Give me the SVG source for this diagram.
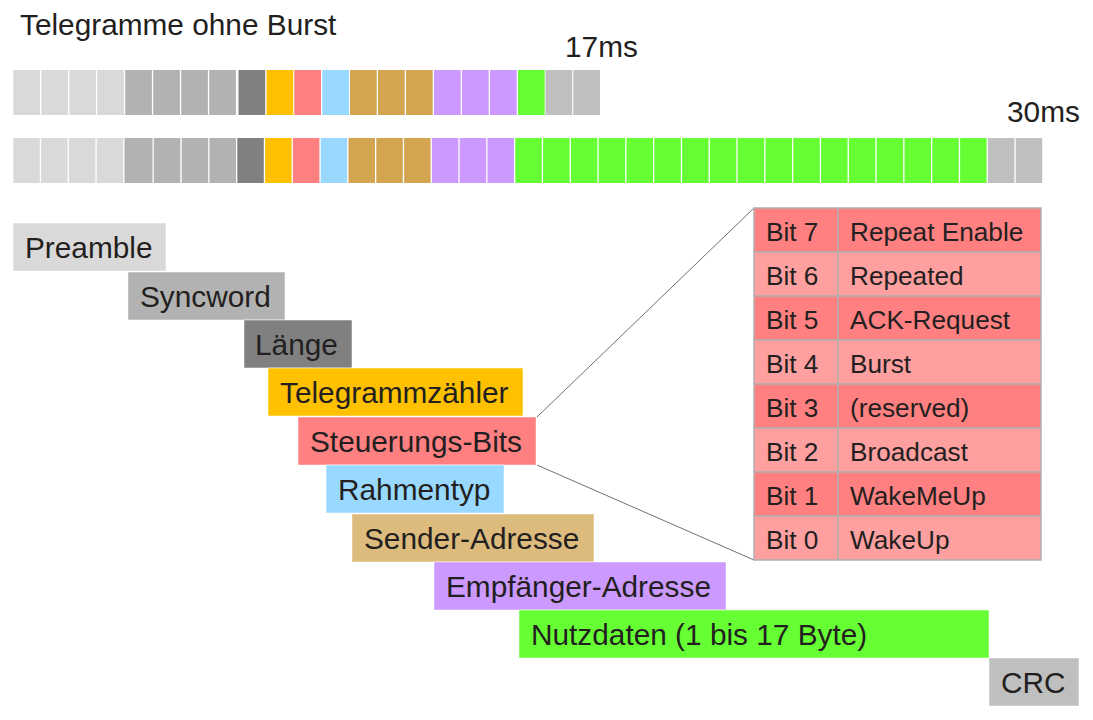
<svg xmlns="http://www.w3.org/2000/svg" width="1093" height="720" viewBox="0 0 1093 720">
<style>
text{font-family:"Liberation Sans",Arial,sans-serif;fill:#231f20}
.lbl{font-size:29.8px}
.tb{font-size:26.2px}
.pre{fill:#d9d9d9}.syn{fill:#b2b2b2}.len{fill:#808080}.cnt{fill:#ffc000}.ctl{fill:#ff8080}.typ{fill:#99d9ff}
.snd{fill:#d4a550}.rcv{fill:#cc99ff}.dat{fill:#66ff33}.crc{fill:#bfbfbf}
.box{stroke:#ffffff;stroke-opacity:.5;stroke-width:1}
.dark{fill:#ff8080}.light{fill:#ffa0a0}
.grid{stroke:#b0b0b0;stroke-width:1.5;fill:none}
.conn{stroke:#707070;stroke-width:1;fill:none}
</style>
<rect width="1093" height="720" fill="#ffffff"/>
<text class="lbl" x="20" y="35">Telegramme ohne Burst</text>
<text class="lbl" x="565" y="57">17ms</text>
<text class="lbl" x="1007" y="122">30ms</text>
<g id="row1">
<rect class="pre" x="13.3" y="70" width="26.7" height="45"/>
<rect class="pre" x="41.3" y="70" width="26.7" height="45"/>
<rect class="pre" x="69.3" y="70" width="26.7" height="45"/>
<rect class="pre" x="97.2" y="70" width="26.7" height="45"/>
<rect class="syn" x="125.2" y="70" width="26.7" height="45"/>
<rect class="syn" x="153.2" y="70" width="26.7" height="45"/>
<rect class="syn" x="181.2" y="70" width="26.7" height="45"/>
<rect class="syn" x="209.2" y="70" width="26.7" height="45"/>
<rect class="len" x="238.5" y="70" width="26.7" height="45"/>
<rect class="cnt" x="266.5" y="70" width="26.7" height="45"/>
<rect class="ctl" x="294.3" y="70" width="26.7" height="45"/>
<rect class="typ" x="322.3" y="70" width="26.7" height="45"/>
<rect class="snd" x="350" y="70" width="26.7" height="45"/>
<rect class="snd" x="378" y="70" width="26.7" height="45"/>
<rect class="snd" x="406" y="70" width="26.7" height="45"/>
<rect class="rcv" x="434" y="70" width="26.7" height="45"/>
<rect class="rcv" x="462" y="70" width="26.7" height="45"/>
<rect class="rcv" x="490" y="70" width="26.7" height="45"/>
<rect class="dat" x="518" y="70" width="26.7" height="45"/>
<rect class="crc" x="545.5" y="70" width="26.7" height="45"/>
<rect class="crc" x="573.3" y="70" width="26.7" height="45"/>
</g>
<g id="row2">
<rect class="pre" x="13.3" y="138" width="26.5" height="45"/>
<rect class="pre" x="41.1" y="138" width="26.5" height="45"/>
<rect class="pre" x="68.9" y="138" width="26.5" height="45"/>
<rect class="pre" x="96.7" y="138" width="26.5" height="45"/>
<rect class="syn" x="124.5" y="138" width="28" height="45"/>
<rect class="syn" x="153.8" y="138" width="26.5" height="45"/>
<rect class="syn" x="181.7" y="138" width="26.5" height="45"/>
<rect class="syn" x="209.5" y="138" width="26.5" height="45"/>
<rect class="len" x="237.3" y="138" width="26.5" height="45"/>
<rect class="cnt" x="265.1" y="138" width="26.5" height="45"/>
<rect class="ctl" x="292.9" y="138" width="26.5" height="45"/>
<rect class="typ" x="320.7" y="138" width="26.5" height="45"/>
<rect class="snd" x="348.5" y="138" width="26.5" height="45"/>
<rect class="snd" x="376.3" y="138" width="26.5" height="45"/>
<rect class="snd" x="404.1" y="138" width="26.5" height="45"/>
<rect class="rcv" x="431.9" y="138" width="26.5" height="45"/>
<rect class="rcv" x="459.7" y="138" width="26.5" height="45"/>
<rect class="rcv" x="487.5" y="138" width="26.5" height="45"/>
<rect class="dat" x="515.3" y="138" width="26.5" height="45"/>
<rect class="dat" x="543.1" y="138" width="26.5" height="45"/>
<rect class="dat" x="570.9" y="138" width="26.5" height="45"/>
<rect class="dat" x="598.7" y="138" width="26.5" height="45"/>
<rect class="dat" x="626.5" y="138" width="26.5" height="45"/>
<rect class="dat" x="654.3" y="138" width="26.5" height="45"/>
<rect class="dat" x="682.1" y="138" width="26.5" height="45"/>
<rect class="dat" x="709.9" y="138" width="26.5" height="45"/>
<rect class="dat" x="737.7" y="138" width="26.5" height="45"/>
<rect class="dat" x="765.5" y="138" width="26.5" height="45"/>
<rect class="dat" x="793.3" y="138" width="26.5" height="45"/>
<rect class="dat" x="821.1" y="138" width="26.5" height="45"/>
<rect class="dat" x="848.9" y="138" width="26.5" height="45"/>
<rect class="dat" x="876.7" y="138" width="26.5" height="45"/>
<rect class="dat" x="904.5" y="138" width="26.5" height="45"/>
<rect class="dat" x="932.3" y="138" width="26.5" height="45"/>
<rect class="dat" x="960.1" y="138" width="26.5" height="45"/>
<rect class="crc" x="987.9" y="138" width="26.5" height="45"/>
<rect class="crc" x="1015.7" y="138" width="26.5" height="45"/>
</g>
<g id="connectors">
<line class="conn" x1="537" y1="417" x2="754" y2="208"/>
<line class="conn" x1="537" y1="465" x2="754" y2="560"/>
</g>
<g id="preamble"><rect class="pre box" x="13" y="223" width="153" height="48"/><text class="lbl" x="25" y="258">Preamble</text></g>
<g id="syncword"><rect class="syn box" x="128" y="272" width="157" height="48"/><text class="lbl" x="140" y="306.5">Syncword</text></g>
<g id="laenge"><rect class="len box" x="244" y="320" width="108" height="48"/><text class="lbl" x="255" y="355">Länge</text></g>
<g id="telegrammzaehler"><rect class="cnt box" x="268" y="368" width="255" height="48"/><text class="lbl" x="280" y="403">Telegrammzähler</text></g>
<g id="steuerungsbits"><rect class="ctl box" x="298" y="417" width="238" height="48"/><text class="lbl" x="310" y="451.5">Steuerungs-Bits</text></g>
<g id="rahmentyp"><rect class="typ box" x="326" y="465" width="178" height="48"/><text class="lbl" x="338" y="500">Rahmentyp</text></g>
<g id="sender"><rect class="box" fill="#ddbb7d" x="352" y="514" width="242" height="48"/><text class="lbl" x="364" y="548.5">Sender-Adresse</text></g>
<g id="empfaenger"><rect class="rcv box" x="434" y="562" width="292" height="48"/><text class="lbl" x="446" y="597">Empfänger-Adresse</text></g>
<g id="nutzdaten"><rect class="dat box" x="519" y="610" width="470" height="48"/><text class="lbl" x="531" y="645">Nutzdaten (1 bis 17 Byte)</text></g>
<g id="crc"><rect class="crc box" x="989" y="658" width="90" height="48"/><text class="lbl" x="1001" y="693">CRC</text></g>
<g id="bits-table">
<rect class="dark" x="754" y="208" width="287" height="44"/>
<rect class="light" x="754" y="252" width="287" height="44"/>
<rect class="dark" x="754" y="296" width="287" height="44"/>
<rect class="light" x="754" y="340" width="287" height="44"/>
<rect class="dark" x="754" y="384" width="287" height="44"/>
<rect class="light" x="754" y="428" width="287" height="44"/>
<rect class="dark" x="754" y="472" width="287" height="44"/>
<rect class="light" x="754" y="516" width="287" height="44"/>
<path class="grid" d="M754 208H1041V560H754Z M754 252H1041 M754 296H1041 M754 340H1041 M754 384H1041 M754 428H1041 M754 472H1041 M754 516H1041 M838 208V560"/>
<text class="tb" x="766" y="241">Bit 7</text><text class="tb" x="850" y="241">Repeat Enable</text>
<text class="tb" x="766" y="285">Bit 6</text><text class="tb" x="850" y="285">Repeated</text>
<text class="tb" x="766" y="329">Bit 5</text><text class="tb" x="850" y="329">ACK-Request</text>
<text class="tb" x="766" y="373">Bit 4</text><text class="tb" x="850" y="373">Burst</text>
<text class="tb" x="766" y="417">Bit 3</text><text class="tb" x="850" y="417">(reserved)</text>
<text class="tb" x="766" y="461">Bit 2</text><text class="tb" x="850" y="461">Broadcast</text>
<text class="tb" x="766" y="505">Bit 1</text><text class="tb" x="850" y="505">WakeMeUp</text>
<text class="tb" x="766" y="549">Bit 0</text><text class="tb" x="850" y="549">WakeUp</text>
</g>
</svg>
